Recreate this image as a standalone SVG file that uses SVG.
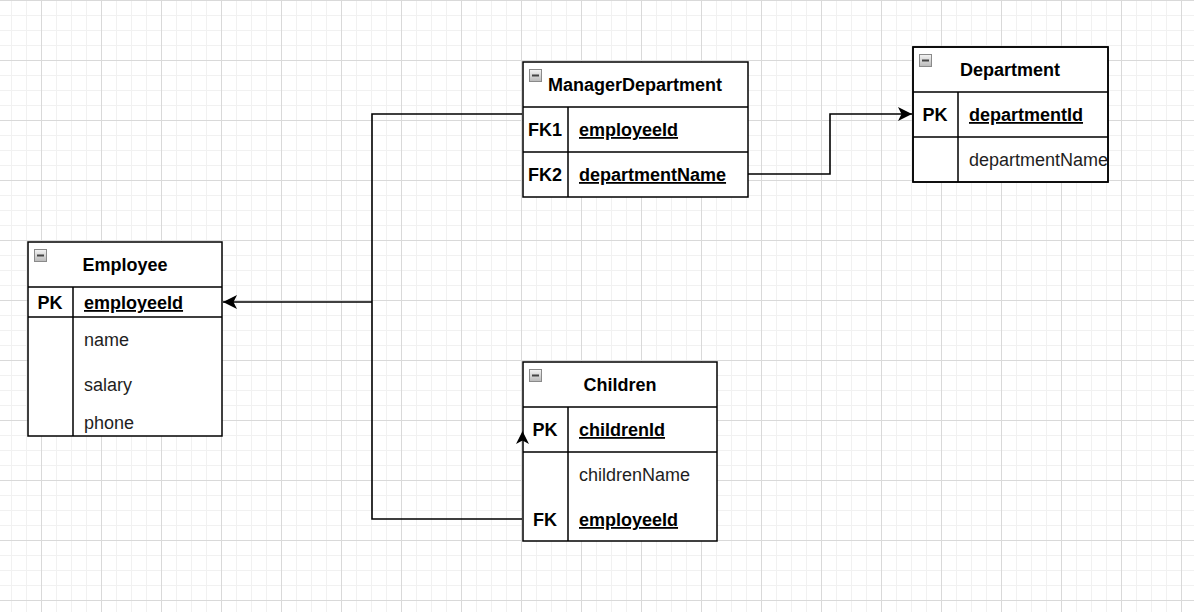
<svg xmlns="http://www.w3.org/2000/svg" width="1194" height="612" viewBox="0 0 1194 612">
<style>
  .tbl{fill:#ffffff;stroke:#000000;stroke-width:1.5}
  .ln{fill:none;stroke:#000000;stroke-width:1.5}
  text{font-family:"Liberation Sans",Arial,sans-serif;font-size:18px}
  .hd{font-weight:bold;fill:#000;text-anchor:middle}
  .key{font-weight:bold;fill:#000;text-anchor:middle}
  .kf{font-weight:bold;fill:#000;text-decoration:underline}
  .fld{fill:#1e1e1e}
  .edge{fill:none;stroke:#000;stroke-width:1.6}
</style>
<defs>
  <pattern id="grid" x="41" y="0" width="60" height="60" patternUnits="userSpaceOnUse">
    <rect x="15" y="0" width="1" height="60" fill="#f1f1f1"/>
    <rect x="30" y="0" width="1" height="60" fill="#f1f1f1"/>
    <rect x="45" y="0" width="1" height="60" fill="#f1f1f1"/>
    <rect x="0" y="15" width="60" height="1" fill="#f1f1f1"/>
    <rect x="0" y="30" width="60" height="1" fill="#f1f1f1"/>
    <rect x="0" y="45" width="60" height="1" fill="#f1f1f1"/>
    <rect x="0" y="0" width="1" height="60" fill="#d9d9d9"/>
    <rect x="0" y="0" width="60" height="1" fill="#d9d9d9"/>
  </pattern>
  <linearGradient id="ig" x1="0" y1="0" x2="0" y2="1">
    <stop offset="0" stop-color="#f4f4f4"/>
    <stop offset="1" stop-color="#b9b9b9"/>
  </linearGradient>
  <g id="icon">
    <rect x="0.5" y="0.5" width="12" height="12" fill="url(#ig)" stroke="#8a8a8a" stroke-width="1"/>
    <rect x="3" y="5.5" width="7" height="2" fill="#444"/>
  </g>
  <marker id="arr" viewBox="0 0 14 14" refX="14" refY="7" markerWidth="14" markerHeight="14" markerUnits="userSpaceOnUse" orient="auto">
    <path d="M0,0 L14,7 L0,14 L3.5,7 Z" fill="#000"/>
  </marker>
  <clipPath id="depClip"><rect x="912" y="47" width="196" height="135"/></clipPath>
</defs>
<rect width="1194" height="612" fill="#ffffff"/>
<rect width="1194" height="612" fill="url(#grid)"/>

<g id="employee">
  <rect class="tbl" x="28" y="242" width="194" height="194"/>
  <path class="ln" d="M28,287 H222 M28,317 H222 M73,287 V436"/>
  <use href="#icon" x="34" y="249"/>
  <text class="hd" x="125" y="271">Employee</text>
  <text class="key" x="50" y="309">PK</text>
  <text class="kf" x="84" y="309">employeeId</text>
  <text class="fld" x="84" y="346">name</text>
  <text class="fld" x="84" y="391">salary</text>
  <text class="fld" x="84" y="429">phone</text>
</g>

<g id="managerDepartment">
  <rect class="tbl" x="523" y="62" width="225" height="135"/>
  <path class="ln" d="M523,107 H748 M523,152 H748 M568,107 V197"/>
  <use href="#icon" x="529" y="69"/>
  <text class="hd" x="635" y="91">ManagerDepartment</text>
  <text class="key" x="545" y="136">FK1</text>
  <text class="kf" x="579" y="136">employeeId</text>
  <text class="key" x="545" y="181">FK2</text>
  <text class="kf" x="579" y="181">departmentName</text>
</g>

<g id="department">
  <rect class="tbl" x="913" y="47" width="195" height="135"/>
  <g clip-path="url(#depClip)">
    <text class="fld" x="969" y="166">departmentName</text>
  </g>
  <path class="ln" d="M913,92 H1108 M913,137 H1108 M958,92 V182"/>
  <rect x="913" y="47" width="195" height="135" fill="none" stroke="#000" stroke-width="1.5"/>
  <use href="#icon" x="919" y="54"/>
  <text class="hd" x="1010" y="76">Department</text>
  <text class="key" x="935" y="121">PK</text>
  <text class="kf" x="969" y="121">departmentId</text>
</g>

<g id="children">
  <rect class="tbl" x="523" y="362" width="194" height="179"/>
  <path class="ln" d="M523,407 H717 M523,452 H717 M568,407 V541"/>
  <use href="#icon" x="529" y="369"/>
  <text class="hd" x="620" y="391">Children</text>
  <text class="key" x="545" y="436">PK</text>
  <text class="kf" x="579" y="436">childrenId</text>
  <text class="fld" x="579" y="481">childrenName</text>
  <text class="key" x="545" y="526">FK</text>
  <text class="kf" x="579" y="526">employeeId</text>
</g>

<g id="connectors">
  <path class="edge" d="M522,114 H372 V519 H522"/>
  <path class="edge" d="M372,302 H223" marker-end="url(#arr)"/>
  <path class="edge" d="M748,174 H830 V114 H912" marker-end="url(#arr)"/>
  <polygon points="522.5,431 529,444 522.5,440.5 516,444" fill="#000"/>
</g>
</svg>
